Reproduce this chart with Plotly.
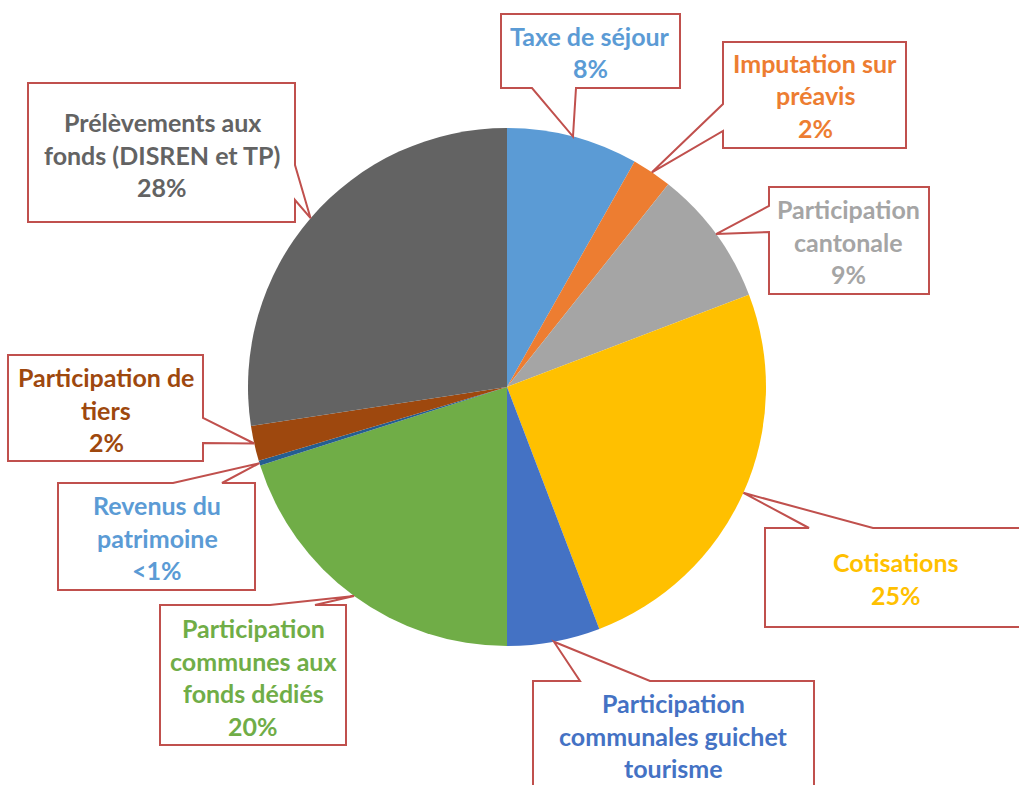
import math
import plotly.graph_objects as go

# ---- data ----
labels = ["Taxe de séjour", "Imputation sur préavis", "Participation cantonale", "Cotisations",
          "Participation communales guichet tourisme", "Participation communes aux fonds dédiés",
          "Revenus du patrimoine", "Participation de tiers", "Prélèvements aux fonds (DISREN et TP)"]
values = [8.2, 2.5, 8.5, 25.0, 5.8, 20.1, 0.3, 2.2, 27.4]
pct_labels = ["8%", "2%", "9%", "25%", "6%", "20%", "<1%", "2%", "28%"]
label_lines = [["Taxe de séjour"], ["Imputation sur", "préavis"], ["Participation", "cantonale"],
               ["Cotisations"], ["Participation", "communales guichet", "tourisme"],
               ["Participation", "communes aux", "fonds dédiés"], ["Revenus du", "patrimoine"],
               ["Participation de", "tiers"], ["Prélèvements aux", "fonds (DISREN et TP)"]]
slice_colors = ["#5B9BD5", "#ED7D31", "#A5A5A5", "#FFC000", "#4472C4", "#70AD47", "#255E91", "#9E480E", "#636363"]
text_colors = ["#5B9BD5", "#ED7D31", "#A5A5A5", "#FFC000", "#4472C4", "#70AD47", "#5B9BD5", "#9E480E", "#636363"]

# ---- layout geometry (pixels) ----
W, H = 1019, 785
CX, CY, R = 507, 387, 259
# box: left, top, right, bottom, wedge side, wedge base a, b, text center x, first line y
boxes = [
    (501, 14, 680, 88, "bottom", 532, 576, 590, 36),
    (723, 42, 906, 148, "left", 104, 131, 815, 63),
    (769, 187, 929, 294, "left", 206, 232, 848, 209),
    (765, 528, 1027, 627, "top", 809, 873, 896, 562),
    (533, 681, 814, 840, "top", 580, 650, 673, 703),
    (160, 605, 346, 745, "top", 270, 315, 253, 628),
    (58, 483, 255, 590, "top", 173, 222, 157, 505),
    (8, 355, 203, 461, "right", 418, 443, 106, 377),
    (28, 83, 295, 222, "right", 165, 200, 162, 122),
]
LINE_GAP = 32.5
FONT_SIZE = 25


def px(x):
    return x / W


def py(y):
    return 1 - y / H


fig = go.Figure(go.Pie(
    labels=labels, values=values, sort=False, direction="clockwise", rotation=0,
    marker=dict(colors=slice_colors, line=dict(width=0)),
    textinfo="none", hoverinfo="label+percent", showlegend=False,
    domain=dict(x=[px(CX - R), px(CX + R)], y=[py(CY + R), py(CY - R)]),
))

total = sum(values)
cum = 0.0
shapes = []
annotations = []
for i, v in enumerate(values):
    mid = (cum + v / 2) / total * 2 * math.pi
    cum += v
    tx = CX + R * math.sin(mid)
    ty = CY - R * math.cos(mid)
    L, T, Rr, B, side, a, b, tcx, ly = boxes[i]
    if side == "top":
        pts = [(L, T), (a, T), (tx, ty), (b, T), (Rr, T), (Rr, B), (L, B)]
    elif side == "right":
        pts = [(L, T), (Rr, T), (Rr, a), (tx, ty), (Rr, b), (Rr, B), (L, B)]
    elif side == "bottom":
        pts = [(L, T), (Rr, T), (Rr, B), (b, B), (tx, ty), (a, B), (L, B)]
    else:
        pts = [(L, T), (Rr, T), (Rr, B), (L, B), (L, b), (tx, ty), (L, a)]
    path = "M " + " L ".join(f"{px(x):.5f},{py(y):.5f}" for x, y in pts) + " Z"
    shapes.append(dict(type="path", path=path, xref="paper", yref="paper",
                       fillcolor="white", line=dict(color="#C0504D", width=2), layer="above"))
    lines = label_lines[i] + [pct_labels[i]]
    for k, t in enumerate(lines):
        yy = ly + k * LINE_GAP
        if yy > H:
            continue  # lies beyond the visible page, as in the reference
        annotations.append(dict(
            x=px(tcx), y=py(yy), xref="paper", yref="paper",
            text=t, showarrow=False, xanchor="center", yanchor="middle",
            font=dict(family="Lato", size=FONT_SIZE, color=text_colors[i], weight=700),
        ))

fig.update_layout(
    width=W, height=H, margin=dict(l=0, r=0, t=0, b=0),
    paper_bgcolor="white", plot_bgcolor="white",
    shapes=shapes, annotations=annotations,
)
fig.write_html("out.html", config={"displayModeBar": False},
               post_script="document.body.style.margin='0';document.body.style.overflow='hidden';")
